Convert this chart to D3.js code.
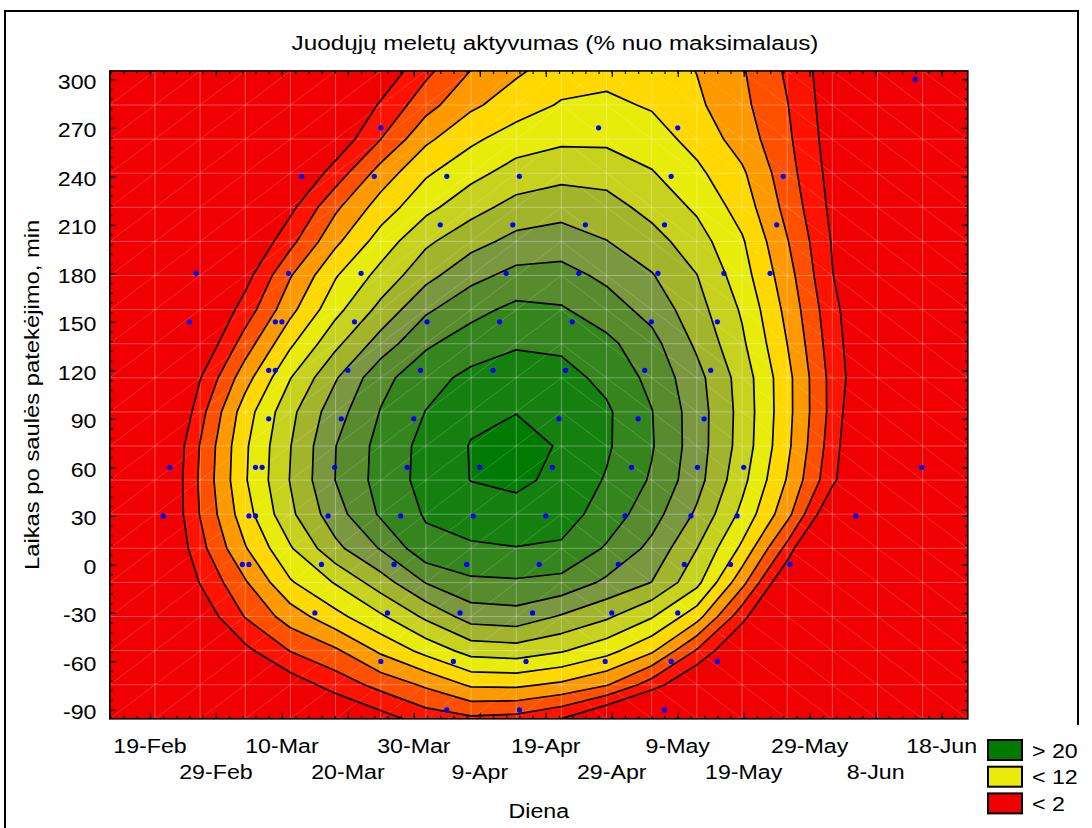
<!DOCTYPE html>
<html><head><meta charset="utf-8">
<script src="https://cdn.jsdelivr.net/npm/d3@7"></script>
<style>
body{margin:0;background:#fff;}
svg{display:block;}
text{font-family:"Liberation Sans",Arial,sans-serif;fill:#000;}
</style>
</head><body>
<svg id="chart" width="1092" height="828"></svg>
<script>
// ---------------- data ----------------
const chartTitle = "Juodųjų meletų aktyvumas (% nuo maksimalaus)";
const xTitle = "Diena";
const yTitle = "Laikas po saulės patekėjimo, min";
// day of year (2008): 50 = 19-Feb
const xTickDays = [50,60,70,80,90,100,110,120,130,140,150,160,170];
const xTickLabels = ["19-Feb","29-Feb","10-Mar","20-Mar","30-Mar","9-Apr","19-Apr","29-Apr","9-May","19-May","29-May","8-Jun","18-Jun"];
const yTicks = [-90,-60,-30,0,30,60,90,120,150,180,210,240,270,300];
const xDomain = [43.91, 173.97];
const yDomain = [-95.5, 305.2];
const levels = [2,4,6,8,10,12,14,16,18,20,22,24];
const bandColors = ["#f00000","#ff1200","#ff5000","#ff9900","#ffd800","#e8ec0a","#c6d21e","#a2b42c","#7b9840","#578b2e","#35851f","#158010","#007a00"];
const legendLabels = ["> 20","< 12","< 2"];
const legendColors = ["#007a00","#ecec0c","#f00000"];
// observations: [minutes after sunrise, [days of year]]
const observations = [
 [300,[166]],
 [270,[85,118,130]],
 [240,[73,84,95,106,129,146]],
 [210,[94,105,116,128,145]],
 [180,[57,71,82,104,115,127,137,144]],
 [150,[56,69,70,81,92,103,114,126,136]],
 [120,[68,69,80,91,102,113,125,135]],
 [90,[68,79,90,112,124,134]],
 [60,[53,66,67,78,89,100,111,123,133,140,167]],
 [30,[52,65,66,77,88,99,110,122,132,139,157]],
 [0,[64,65,76,87,98,109,121,131,138,147]],
 [-30,[75,86,97,108,120,130]],
 [-60,[85,96,107,119,129,136]],
 [-90,[95,106,128]]
];
// fitted activity surface on a 20 x 20 grid (rows: top = 305 min -> bottom = -95 min; cols: day 43.9 -> 174)
const activityGrid = [
 [-1,-1,-1,-1,-1,-1,0.4,3.5,6.05,7.7,8.9,9.4,9.2,7.95,6.2,3.7,0.7,-1,-1,-1],
 [-1,-1,-1,-1,-1,-0.7,2.24,5.24,7.63,9.0,10.2,10.4,9.8,8.37,6.51,4.08,0.8,-1,-1,-1],
 [-1,-1,-1,-1,-1,0.5,3.98,7.59,9.59,11.0,11.6,11.6,10.9,9.3,7.1,4.39,1.0,-1,-1,-1],
 [-1,-1,-1,-1,-0.5,2.88,6.87,9.74,11.41,12.8,13.4,13.2,12.15,10.45,8.33,4.8,1.24,-1,-1,-1],
 [-1,-1,-1,-1,1.47,5.62,8.92,11.44,13.28,14.7,15.2,14.8,13.34,11.67,9.15,5.35,1.5,-1,-1,-1],
 [-1,-1,-1,-0.45,3.4,7.56,10.9,13.63,15.3,16.6,17.0,16.05,14.8,12.87,10.24,6.12,1.85,-1,-1,-1],
 [-1,-1,-1,1.22,5.87,9.84,12.68,15.37,17.4,18.6,18.7,17.57,16.14,14.04,10.89,6.83,2.07,-1,-1,-1],
 [-1,-1,-1,2.87,7.42,11.39,14.6,17.67,19.37,20.5,20.2,18.94,17.31,14.79,11.75,7.43,2.63,-1,-1,-1],
 [-1,-1,0,4.98,9.67,13.52,16.9,19.7,21.0,21.8,21.6,20.5,18.67,15.64,12.37,8.0,2.96,-1,-1,-1],
 [-1,-1,1.9,7.19,11.94,15.82,19.4,21.26,22.5,22.9,22.7,21.48,19.45,16.66,13.16,8.62,3.3,-1,-1,-1],
 [-4,-3.7,3.26,9.06,13.47,17.17,20.1,22.05,23.6,23.9,23.4,22.3,20.07,16.97,13.3,8.64,3.33,-2.33,-3,-3],
 [-4,-1.9,4.1,9.7,13.95,17.97,20.67,22.62,24.1,25.5,23.65,22.26,20.17,16.97,13.2,8.45,2.98,-2.82,-3,-3],
 [-4,-1.67,4.31,9.82,14.1,18.04,20.76,22.67,24.05,24.6,23.26,21.85,19.77,16.75,12.6,7.86,2.51,-2.86,-3,-3],
 [-4,-1.53,4.09,9.16,13.59,17.18,20.28,22.2,22.7,23.0,22.9,21.1,18.86,15.67,11.5,6.67,-0.3,-3,-3,-3],
 [-4,-1.75,3.33,7.85,11.81,15.49,18.16,21.4,21.8,21.95,21.7,19.79,17.47,14.03,9.6,3.35,-5.25,-4,-4,-4],
 [-4,-2.1,2.1,5.79,9.79,12.17,15.06,18.1,19.6,19.75,19.4,17.6,15.97,12.58,6.67,-0.36,-4,-4,-4,-4],
 [-4,-3,0.53,4.11,6.94,9.38,11.69,14.41,16.9,17.2,15.8,14.33,12.18,8.83,2.7,-2.77,-4,-4,-4,-4],
 [-4,-4,-3,1.49,4.09,5.69,8.39,10.66,12.8,13.1,12.2,10.72,8.38,3.81,-0.71,-4,-4,-4,-4,-4],
 [-4,-4,-4,-3,0.84,2.84,4.66,6.33,8.3,8.4,7.63,6.17,3.04,-0.57,-4,-4,-4,-4,-4,-4],
 [-4,-4,-4,-4,-3,-0.45,1.14,2.9,3.6,3.3,1.96,-0.78,-3.7,-4,-4,-4,-4,-4,-4,-4]
];

// ---------------- drawing ----------------
const svg = d3.select("#chart");
const plot = {left:109.8, right:967.8, top:70.9, bottom:718.8};
const x = d3.scaleLinear().domain(xDomain).range([plot.left, plot.right]);
const y = d3.scaleLinear().domain(yDomain).range([plot.bottom, plot.top]);
const nx = activityGrid[0].length, ny = activityGrid.length;
const gridDay = i => xDomain[0] + i*(xDomain[1]-xDomain[0])/(nx-1);
const gridMin = j => yDomain[1] - j*(yDomain[1]-yDomain[0])/(ny-1);

function sText(parent, px, py, str, opt={}) {
  const {anchor="middle", size=20, sx=1.16, rot=0} = opt;
  const g = parent.append("g").attr("transform", `translate(${px},${py}) rotate(${rot}) scale(${sx},1)`);
  g.append("text").attr("text-anchor", anchor).attr("font-size", size).text(str);
  return g;
}

// outer frame
svg.append("path").attr("d", `M5,828 L5,11 L1078,11 L1078,725`).attr("fill","none").attr("stroke","#000").attr("stroke-width",2);

svg.append("defs").append("clipPath").attr("id","plotclip").append("rect")
  .attr("x",plot.left).attr("y",plot.top).attr("width",plot.right-plot.left).attr("height",plot.bottom-plot.top);

const gPlot = svg.append("g").attr("clip-path","url(#plotclip)");
gPlot.append("rect").attr("x",plot.left).attr("y",plot.top).attr("width",plot.right-plot.left).attr("height",plot.bottom-plot.top).attr("fill",bandColors[0]);

const values = activityGrid.flat();
const contours = d3.contours().size([nx, ny]).thresholds(levels)(values);
const proj = d3.geoTransform({point(px, py){
  this.stream.point(x(gridDay(px-0.5)), y(gridMin(py-0.5)));
}});
const path = d3.geoPath(proj);

gPlot.selectAll("path.band").data(contours).join("path").attr("class","band")
  .attr("d", path).attr("fill", (d,i)=>bandColors[i+1]).attr("stroke","none");

// surface mesh (faint)
const mesh = gPlot.append("g").attr("stroke","#fff").attr("fill","none");
for (let i=1;i<nx-1;i++) mesh.append("line").attr("x1",x(gridDay(i))).attr("x2",x(gridDay(i))).attr("y1",plot.top).attr("y2",plot.bottom).attr("stroke-opacity",0.3).attr("stroke-width",1);
for (let j=1;j<ny-1;j++) mesh.append("line").attr("y1",y(gridMin(j))).attr("y2",y(gridMin(j))).attr("x1",plot.left).attr("x2",plot.right).attr("stroke-opacity",0.3).attr("stroke-width",1);
for (let i=0;i<nx-1;i++) for (let j=0;j<ny-1;j++) {
  const xa=x(gridDay(i)), xb=x(gridDay(i+1)), ya=y(gridMin(j)), yb=y(gridMin(j+1));
  const l = mesh.append("line").attr("stroke-opacity",0.22).attr("stroke-width",0.8);
  if (i < 10) l.attr("x1",xa).attr("y1",yb).attr("x2",xb).attr("y2",ya);
  else l.attr("x1",xa).attr("y1",ya).attr("x2",xb).attr("y2",yb);
}

gPlot.selectAll("path.iso").data(contours).join("path").attr("class","iso")
  .attr("d", path).attr("fill","none").attr("stroke","#000").attr("stroke-width",1.7).attr("stroke-linejoin","round");

// observation points
const pts = observations.flatMap(([m, days]) => days.map(d => ({d, m})));
gPlot.selectAll("circle").data(pts).join("circle")
  .attr("cx", p=>x(p.d)).attr("cy", p=>y(p.m)).attr("r",2.6).attr("fill","#0000ff");

// plot frame
svg.append("rect").attr("x",plot.left).attr("y",plot.top).attr("width",plot.right-plot.left).attr("height",plot.bottom-plot.top)
  .attr("fill","none").attr("stroke","#000").attr("stroke-width",1.6);

// ticks (inside, all four sides)
const yMinor = d3.range(-90, 301, 6);
const xMinor = d3.range(44, 174, 2);
function axisTicks(axisFn, scale, pos, vals, size) {
  svg.append("g").attr("transform", pos)
    .call(axisFn(scale).tickValues(vals).tickSize(size).tickFormat(""))
    .call(g=>g.select(".domain").remove())
    .call(g=>g.selectAll("line").attr("stroke","#000").attr("stroke-width",1.2));
}
axisTicks(d3.axisRight, y, `translate(${plot.left},0)`, yMinor, 3);
axisTicks(d3.axisRight, y, `translate(${plot.left},0)`, yTicks, 6);
axisTicks(d3.axisLeft, y, `translate(${plot.right},0)`, yMinor, 3);
axisTicks(d3.axisLeft, y, `translate(${plot.right},0)`, yTicks, 6);
axisTicks(d3.axisTop, x, `translate(0,${plot.bottom})`, xMinor, 3);
axisTicks(d3.axisTop, x, `translate(0,${plot.bottom})`, xTickDays, 6);
axisTicks(d3.axisBottom, x, `translate(0,${plot.top})`, xMinor, 3);
axisTicks(d3.axisBottom, x, `translate(0,${plot.top})`, xTickDays, 6);

// tick labels
yTicks.forEach(v => sText(svg, 96.5, y(v)+9.2, String(v), {anchor:"end"}));
xTickDays.forEach((d,i) => sText(svg, x(d), i%2===0 ? 752.7 : 778.5, xTickLabels[i]));

// titles
sText(svg, 555, 50, chartTitle, {size:21, sx:1.155});
sText(svg, (plot.left+plot.right)/2, 818, xTitle);
sText(svg, 38.5, (plot.top+plot.bottom)/2, yTitle, {rot:-90, sx:1.19});

// legend
legendLabels.forEach((lab,i) => {
  const ly = 740 + i*26.7;
  svg.append("rect").attr("x",988).attr("y",ly).attr("width",34).attr("height",20)
    .attr("fill",legendColors[i]).attr("stroke","#000").attr("stroke-width",2);
  sText(svg, 1032, ly+17.5, lab, {anchor:"start"});
});
</script>
</body></html>
